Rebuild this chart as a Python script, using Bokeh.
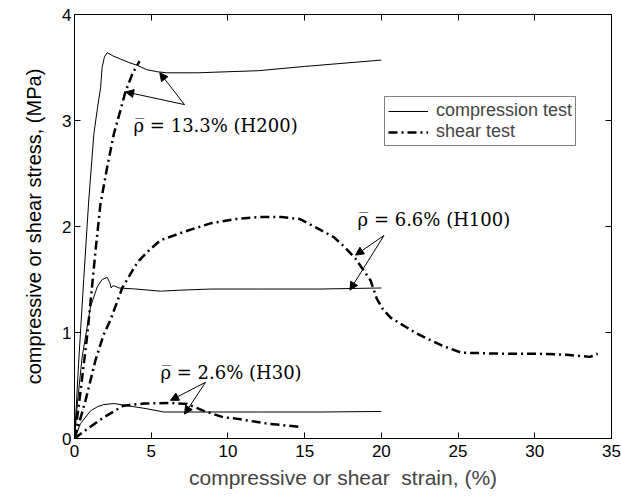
import math
from bokeh.plotting import figure
from bokeh.models import (Range1d, LinearAxis, Legend, LegendItem, Arrow, NormalHead,
                          Title, FixedTicker)
from bokeh.core.properties import value
from bokeh.embed import file_html
from bokeh.resources import INLINE

# ---------------- data ----------------
h200_comp_x = [0, 0.28, 0.6, 0.93, 1.26, 1.5, 1.7, 1.8, 1.95, 2.13, 2.5, 3.0, 3.5, 4.09, 4.7, 5.39, 6.0, 8.0, 10.0, 12.0, 15.0, 17.5, 20.0]
h200_comp_y = [0, 0.74, 1.5, 2.25, 2.87, 3.12, 3.31, 3.5, 3.6, 3.64, 3.61, 3.58, 3.55, 3.52, 3.48, 3.46, 3.45, 3.45, 3.46, 3.47, 3.51, 3.54, 3.57]

h200_shear_x = [0, 0.4, 0.85, 1.37, 1.69, 2.13, 2.56, 3.0, 3.32, 3.8, 4.24]
h200_shear_y = [0, 0.45, 1.0, 1.77, 2.21, 2.56, 2.87, 3.1, 3.27, 3.45, 3.56]

h100_comp_x = [0, 0.2, 0.5, 1.04, 1.48, 1.8, 2.13, 2.3, 2.39, 2.5, 2.6, 2.89, 4.0, 5.6, 7.0, 8.87, 12.0, 16.0, 20.0]
h100_comp_y = [0, 0.35, 0.77, 1.24, 1.43, 1.5, 1.52, 1.47, 1.42, 1.44, 1.44, 1.42, 1.41, 1.39, 1.40, 1.41, 1.41, 1.41, 1.42]

h100_shear_x = [0, 0.35, 0.72, 1.37, 1.9, 2.35, 3.11, 4.09, 4.74, 5.6, 7.35, 8.87, 10.5, 12.1, 13.5, 14.7, 16.0, 16.9, 17.5, 18.3, 19.3, 19.7, 20.1, 20.6, 22.3, 23.9, 25.2, 27.8, 30.0, 32.1, 33.6, 34.1]
h100_shear_y = [0, 0.17, 0.36, 0.74, 0.98, 1.12, 1.42, 1.66, 1.76, 1.87, 1.96, 2.03, 2.07, 2.09, 2.09, 2.07, 1.97, 1.9, 1.82, 1.70, 1.49, 1.32, 1.22, 1.14, 0.99, 0.88, 0.81, 0.80, 0.80, 0.79, 0.77, 0.80]

h30_comp_x = [0, 0.39, 1.04, 1.5, 1.91, 2.56, 3.43, 4.74, 5.82, 8.0, 12.0, 16.0, 20.0]
h30_comp_y = [0, 0.14, 0.26, 0.30, 0.32, 0.33, 0.31, 0.28, 0.25, 0.25, 0.25, 0.25, 0.255]

h30_shear_x = [0, 0.83, 1.91, 3.2, 4.52, 6.26, 7.35, 8.43, 9.7, 10.4, 12.6, 14.84]
h30_shear_y = [0, 0.09, 0.20, 0.31, 0.33, 0.335, 0.325, 0.26, 0.20, 0.19, 0.14, 0.107]

x_ticks = [0, 5, 10, 15, 20, 25, 30, 35]
y_ticks = [0, 1, 2, 3, 4]

# annotations: text, text anchor, arrow tail, arrow heads
ann_texts = ["\u03c1\u0305 = 13.3% (H200)", "\u03c1\u0305 = 6.6% (H100)", "\u03c1\u0305 = 2.6% (H30)"]
ann_x = [3.85, 18.45, 5.6]
ann_y = [2.95, 2.07, 0.62]
arrow_tail = [(7.17, 3.15), (20.17, 1.915), (8.54, 0.53)]
arrow_heads = [[(5.56, 3.45), (3.33, 3.27)],
               [(18.32, 1.73), (17.95, 1.40)],
               [(6.26, 0.36), (7.17, 0.23)]]

SANS = "Liberation Sans"
SERIF = "DejaVu Serif"

p = figure(width=621, height=498, output_backend="svg", toolbar_location=None,
           x_range=Range1d(0, 35), y_range=Range1d(0, 4),
           min_border_left=74, min_border_right=10, min_border_top=14, min_border_bottom=60)
p.background_fill_color = "white"
p.border_fill_color = "white"
p.outline_line_color = "black"
p.outline_line_width = 1
p.xgrid.visible = False
p.ygrid.visible = False

for ax in (p.xaxis[0], p.yaxis[0]):
    ax.major_tick_in = 6
    ax.major_tick_out = 0
    ax.minor_tick_line_color = None
    ax.axis_line_color = "black"
    ax.major_label_text_font = SANS
    ax.major_label_text_font_size = "17px"
    ax.major_label_text_color = "black"
p.xaxis[0].ticker = FixedTicker(ticks=x_ticks)
p.yaxis[0].ticker = FixedTicker(ticks=y_ticks)
p.xaxis[0].major_label_standoff = 6
p.yaxis[0].major_label_standoff = 3
p.xaxis[0].axis_label = "compressive or shear\u00a0 strain, (%)"
p.xaxis[0].axis_label_text_font = SANS
p.xaxis[0].axis_label_text_font_size = "21px"
p.xaxis[0].axis_label_text_font_style = "normal"
p.xaxis[0].axis_label_standoff = 6

top = LinearAxis(ticker=FixedTicker(ticks=x_ticks), major_tick_in=6, major_tick_out=0,
                 minor_tick_line_color=None, major_label_overrides={t: "" for t in x_ticks})
right = LinearAxis(ticker=FixedTicker(ticks=y_ticks), major_tick_in=6, major_tick_out=0,
                   minor_tick_line_color=None, major_label_overrides={t: "" for t in y_ticks})
p.add_layout(top, "above")
p.add_layout(right, "right")

# y axis title placed like the reference (slightly above the frame centre)
ytitle = Title(text="compressive or shear stress, (MPa)", align="center", offset=40,
               text_font=SANS, text_font_size="20px", text_font_style="normal",
               text_color="black", standoff=29)
p.add_layout(ytitle, "left")

DASH = "9 4 2 4"
comp_kw = dict(line_color="black", line_width=1)
shear_kw = dict(line_color="black", line_width=2.5, line_dash=DASH)

r_c200 = p.line(h200_comp_x, h200_comp_y, **comp_kw)
r_s200 = p.line(h200_shear_x, h200_shear_y, **shear_kw)
p.line(h100_comp_x, h100_comp_y, **comp_kw)
p.line(h100_shear_x, h100_shear_y, **shear_kw)
p.line(h30_comp_x, h30_comp_y, **comp_kw)
p.line(h30_shear_x, h30_shear_y, **shear_kw)

p.text(x=ann_x, y=ann_y, text=ann_texts, text_font=value(SERIF), text_font_size="18px",
       text_color="black", text_baseline="alphabetic", text_align="left")

for (tx, ty), heads in zip(arrow_tail, arrow_heads):
    for hx, hy in heads:
        p.add_layout(Arrow(x_start=tx, y_start=ty, x_end=hx, y_end=hy, line_width=1,
                           line_color="black",
                           end=NormalHead(size=8, fill_color="black", line_color="black", line_width=1)))

legend = Legend(items=[LegendItem(label="compression test", renderers=[r_c200]),
                       LegendItem(label="shear test", renderers=[r_s200])],
                location=(310, 292), border_line_color="black", border_line_width=1,
                background_fill_alpha=1.0, padding=3, spacing=0, margin=0,
                glyph_width=40, glyph_height=16, label_height=16, label_standoff=8,
                label_text_font=SANS, label_text_font_size="18px")
p.add_layout(legend, "center")

open("out.html", "w").write(file_html(p, INLINE))
